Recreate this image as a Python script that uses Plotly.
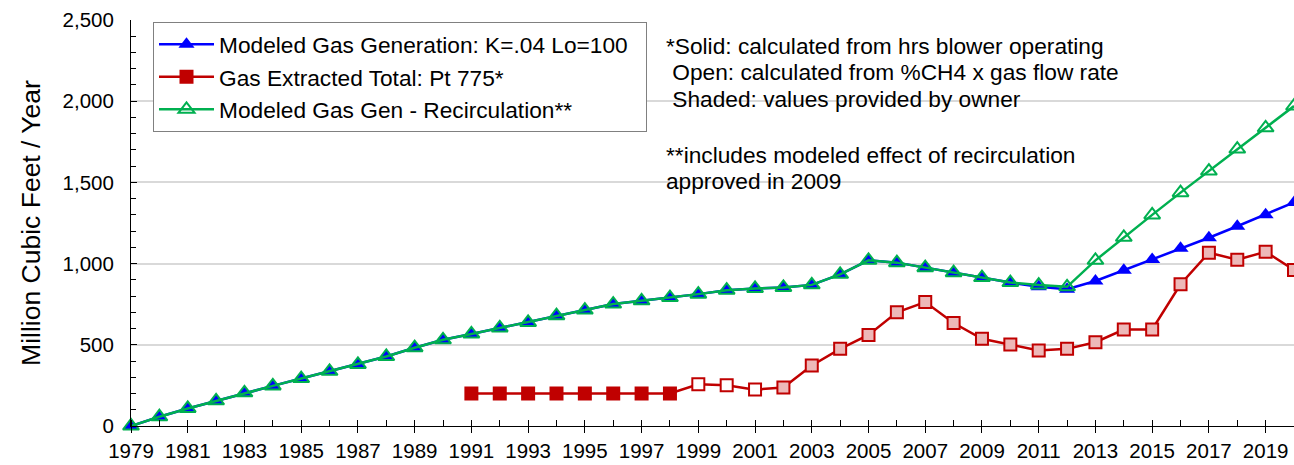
import plotly.graph_objects as go

years = list(range(1979, 2021))

modeled_gen = [0, 57, 108, 155, 204, 247, 292, 337, 379, 428, 482, 531, 567, 604, 638,
               679, 714, 751, 771, 791, 812, 836, 847, 853, 869, 934, 1020, 1006, 975,
               944, 914, 883, 858, 842, 893, 959, 1026, 1094, 1159, 1230, 1301, 1377]

modeled_recirc = [0, 57, 108, 155, 204, 247, 292, 337, 379, 428, 482, 531, 567, 604, 638,
                  679, 714, 751, 771, 791, 812, 836, 847, 853, 869, 934, 1020, 1006, 975,
                  944, 914, 883, 868, 857, 1020, 1162, 1300, 1437, 1570, 1705, 1836, 1970]

extracted_years = list(range(1991, 2021))
extracted = [200, 200, 200, 200, 200, 200, 200, 200,
             257, 251, 224,
             237, 373, 475, 561, 700, 763, 634, 537, 502, 465, 475, 516, 594, 594,
             873, 1067, 1024, 1073, 961]
extracted_kind = ["solid"] * 8 + ["open"] * 3 + ["shaded"] * 19

BLUE = "#0000FF"
RED = "#C00000"
GREEN = "#00B050"
FONT = "Liberation Sans, Arial, sans-serif"

kind_fill = {"solid": RED, "open": "#FFFFFF", "shaded": "#EDB8B8"}
red_fill = [kind_fill[k] for k in extracted_kind]

fig = go.Figure()

fig.add_trace(go.Scatter(
    x=years, y=modeled_gen, mode="lines+markers",
    name="Modeled Gas Generation: K=.04 Lo=100\u00a0\u00a0",
    line=dict(color=BLUE, width=2.5),
    marker=dict(symbol="triangle-up", size=14, color=BLUE, line=dict(width=0)),
    cliponaxis=False,
))

fig.add_trace(go.Scatter(
    x=extracted_years, y=extracted, mode="lines+markers",
    name="Gas Extracted Total: Pt 775*",
    line=dict(color=RED, width=2.5),
    marker=dict(symbol="square", size=12, color=red_fill, line=dict(color=RED, width=2)),
    cliponaxis=False,
))

fig.add_trace(go.Scatter(
    x=years, y=modeled_recirc, mode="lines+markers",
    name="Modeled Gas Gen - Recirculation**",
    line=dict(color=GREEN, width=2.5),
    marker=dict(symbol="triangle-up-open", size=14, color=GREEN, line=dict(color=GREEN, width=2)),
    cliponaxis=False,
))

W, H = 1294, 465
L, R, T, B = 131, 0, 20, 39
pw, ph = W - L - R, H - T - B

def px(x):
    return (x - L) / pw

def py(y):
    return (H - B - y) / ph

fig.add_shape(type="rect", xref="paper", yref="paper",
              x0=px(657), x1=px(1148), y0=py(195), y1=py(25),
              fillcolor="white", line=dict(width=0), layer="between")

note_lines = [
    ("*Solid: calculated from hrs blower operating", 46),
    ("\u00a0Open: calculated from %CH4 x gas flow rate", 72),
    ("\u00a0Shaded: values provided by owner", 99),
    ("**includes modeled effect of recirculation", 155),
    ("approved in 2009", 181),
]
for txt, yy in note_lines:
    fig.add_annotation(text=txt, xref="paper", yref="paper", x=px(664), y=py(yy),
                       xanchor="left", yanchor="middle", showarrow=False,
                       font=dict(family=FONT, size=22.7, color="black"))

fig.update_layout(
    width=W, height=H,
    margin=dict(l=L, r=R, t=T, b=B, pad=0),
    paper_bgcolor="white", plot_bgcolor="white",
    font=dict(family=FONT, color="black"),
    showlegend=True,
    legend=dict(x=px(153), y=py(22), xanchor="left", yanchor="top",
                bgcolor="white", bordercolor="#808080", borderwidth=1,
                font=dict(family=FONT, size=22.7, color="black"),
                itemwidth=55, tracegroupgap=0),
)

fig.update_xaxes(
    range=[1979, 2020], tick0=1979, dtick=2,
    ticks="outside", ticklen=6, tickcolor="black", tickwidth=1,
    minor=dict(tick0=1979, dtick=1, ticks="inside", ticklen=6, tickcolor="black", tickwidth=1, showgrid=False),
    showline=True, linecolor="black", linewidth=1,
    showgrid=False, zeroline=False,
    tickfont=dict(family=FONT, size=20.5, color="black"),
)

fig.update_yaxes(
    range=[0, 2500], tick0=0, dtick=500, tickformat=",",
    ticks="inside", ticklen=6, tickcolor="black", tickwidth=1,
    minor=dict(dtick=100, ticks="inside", ticklen=5, tickcolor="black", tickwidth=1, showgrid=False),
    showline=True, linecolor="black", linewidth=1,
    showgrid=True, gridcolor="#D9D9D9", gridwidth=1.5,
    zeroline=False,
    tickfont=dict(family=FONT, size=20.5, color="black"),
    ticklabelstandoff=12,
    title=dict(text="Million Cubic Feet / Year", font=dict(family=FONT, size=26.5, color="black"), standoff=14),
)

fig.write_html("out.html", config={"displayModeBar": False},
               post_script="document.body.style.margin='0';document.body.style.overflow='hidden';")
